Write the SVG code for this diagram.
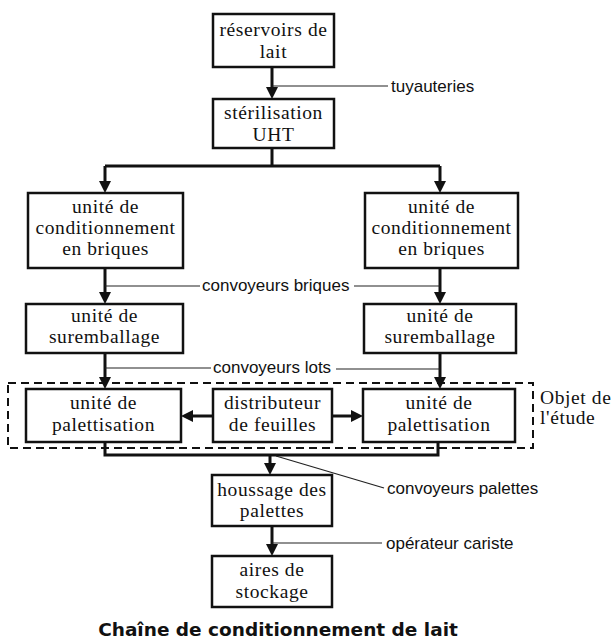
<svg xmlns="http://www.w3.org/2000/svg" width="615" height="642" viewBox="0 0 615 642">
<style>
.box{fill:#fff;stroke:#111;stroke-width:2.5}
.nt{font-family:"Liberation Serif","Times New Roman",serif;font-size:19.5px;letter-spacing:0.6px;fill:#111;text-anchor:middle}
.lbl{font-family:"Liberation Sans",Arial,sans-serif;font-size:17px;fill:#111}
.flow{fill:none;stroke:#111;stroke-width:3}
.thin{fill:none;stroke:#222;stroke-width:1.2}
.zone{fill:none;stroke:#111;stroke-width:2;stroke-dasharray:8,5}
.title{font-family:"DejaVu Sans","Liberation Sans",sans-serif;font-weight:bold;font-size:18.5px;fill:#111;text-anchor:middle}
</style>
<defs>
<marker id="ah" markerWidth="14" markerHeight="14" refX="6" refY="6" orient="auto" markerUnits="userSpaceOnUse">
<path d="M0,0 L12,6 L0,12 z" fill="#111"/>
</marker>
</defs>
<rect x="0" y="0" width="615" height="642" fill="#fff"/>

<g id="zone">
<rect class="zone" x="8" y="383" width="525" height="65"/>
<text class="nt" x="540" y="404" style="text-anchor:start">Objet de</text>
<text class="nt" x="540" y="424" style="text-anchor:start">l'étude</text>
</g>

<g id="connectors">
<path class="flow" d="M272,67 V93" marker-end="url(#ah)"/>
<path class="flow" d="M272,148 V166 M105,166 H440"/>
<path class="flow" d="M105,166 V187" marker-end="url(#ah)"/>
<path class="flow" d="M440,166 V187" marker-end="url(#ah)"/>
<path class="flow" d="M105,268 V298" marker-end="url(#ah)"/>
<path class="flow" d="M440,268 V298" marker-end="url(#ah)"/>
<path class="flow" d="M105,353 V383" marker-end="url(#ah)"/>
<path class="flow" d="M440,353 V383" marker-end="url(#ah)"/>
<path class="flow" d="M213,416 H187" marker-end="url(#ah)"/>
<path class="flow" d="M332,416 H357" marker-end="url(#ah)"/>
<path class="flow" d="M105,442 V455 H438 V442"/>
<path class="flow" d="M270,455 V469" marker-end="url(#ah)"/>
<path class="flow" d="M272,526 V550" marker-end="url(#ah)"/>
<path class="thin" d="M272,86 H388"/>
<path class="thin" d="M105,286 H200 M354,286 H440"/>
<path class="thin" d="M105,368 H211 M336,369 H440"/>
<path class="thin" d="M276,456 L384,488"/>
<path class="thin" d="M272,543 H382"/>
<text class="lbl" x="391" y="92">tuyauteries</text>
<text class="lbl" x="202" y="291">convoyeurs briques</text>
<text class="lbl" x="213" y="373">convoyeurs lots</text>
<text class="lbl" x="387" y="494">convoyeurs palettes</text>
<text class="lbl" x="386" y="549">opérateur cariste</text>
</g>

<g id="n1"><rect class="box" x="213" y="14" width="121" height="53"/>
<text class="nt" x="273.5" y="36">réservoirs de</text><text class="nt" x="273.5" y="58">lait</text></g>
<g id="n2"><rect class="box" x="213" y="99" width="121" height="49"/>
<text class="nt" x="273.5" y="119">stérilisation</text><text class="nt" x="273.5" y="141">UHT</text></g>
<g id="n3"><rect class="box" x="28" y="193" width="155" height="75"/>
<text class="nt" x="105.5" y="213">unité de</text><text class="nt" x="105.5" y="234">conditionnement</text><text class="nt" x="105.5" y="255">en briques</text></g>
<g id="n4"><rect class="box" x="365" y="193" width="153" height="75"/>
<text class="nt" x="441.5" y="213">unité de</text><text class="nt" x="441.5" y="234">conditionnement</text><text class="nt" x="441.5" y="255">en briques</text></g>
<g id="n5"><rect class="box" x="26" y="304" width="157" height="49"/>
<text class="nt" x="104.5" y="322">unité de</text><text class="nt" x="104.5" y="343">suremballage</text></g>
<g id="n6"><rect class="box" x="364" y="304" width="152" height="49"/>
<text class="nt" x="440" y="322">unité de</text><text class="nt" x="440" y="343">suremballage</text></g>
<g id="n7"><rect class="box" x="26" y="389" width="155" height="53"/>
<text class="nt" x="103.5" y="409">unité de</text><text class="nt" x="103.5" y="431">palettisation</text></g>
<g id="n8"><rect class="box" x="213" y="389" width="119" height="53"/>
<text class="nt" x="272.5" y="409">distributeur</text><text class="nt" x="272.5" y="431">de feuilles</text></g>
<g id="n9"><rect class="box" x="363" y="389" width="152" height="53"/>
<text class="nt" x="439" y="409">unité de</text><text class="nt" x="439" y="431">palettisation</text></g>
<g id="n10"><rect class="box" x="212" y="475" width="120" height="51"/>
<text class="nt" x="272" y="496">houssage des</text><text class="nt" x="272" y="517">palettes</text></g>
<g id="n11"><rect class="box" x="212" y="556" width="120" height="51"/>
<text class="nt" x="272" y="576">aires de</text><text class="nt" x="272" y="598">stockage</text></g>

<text class="title" x="278" y="636">Chaîne de conditionnement de lait</text>
</svg>
